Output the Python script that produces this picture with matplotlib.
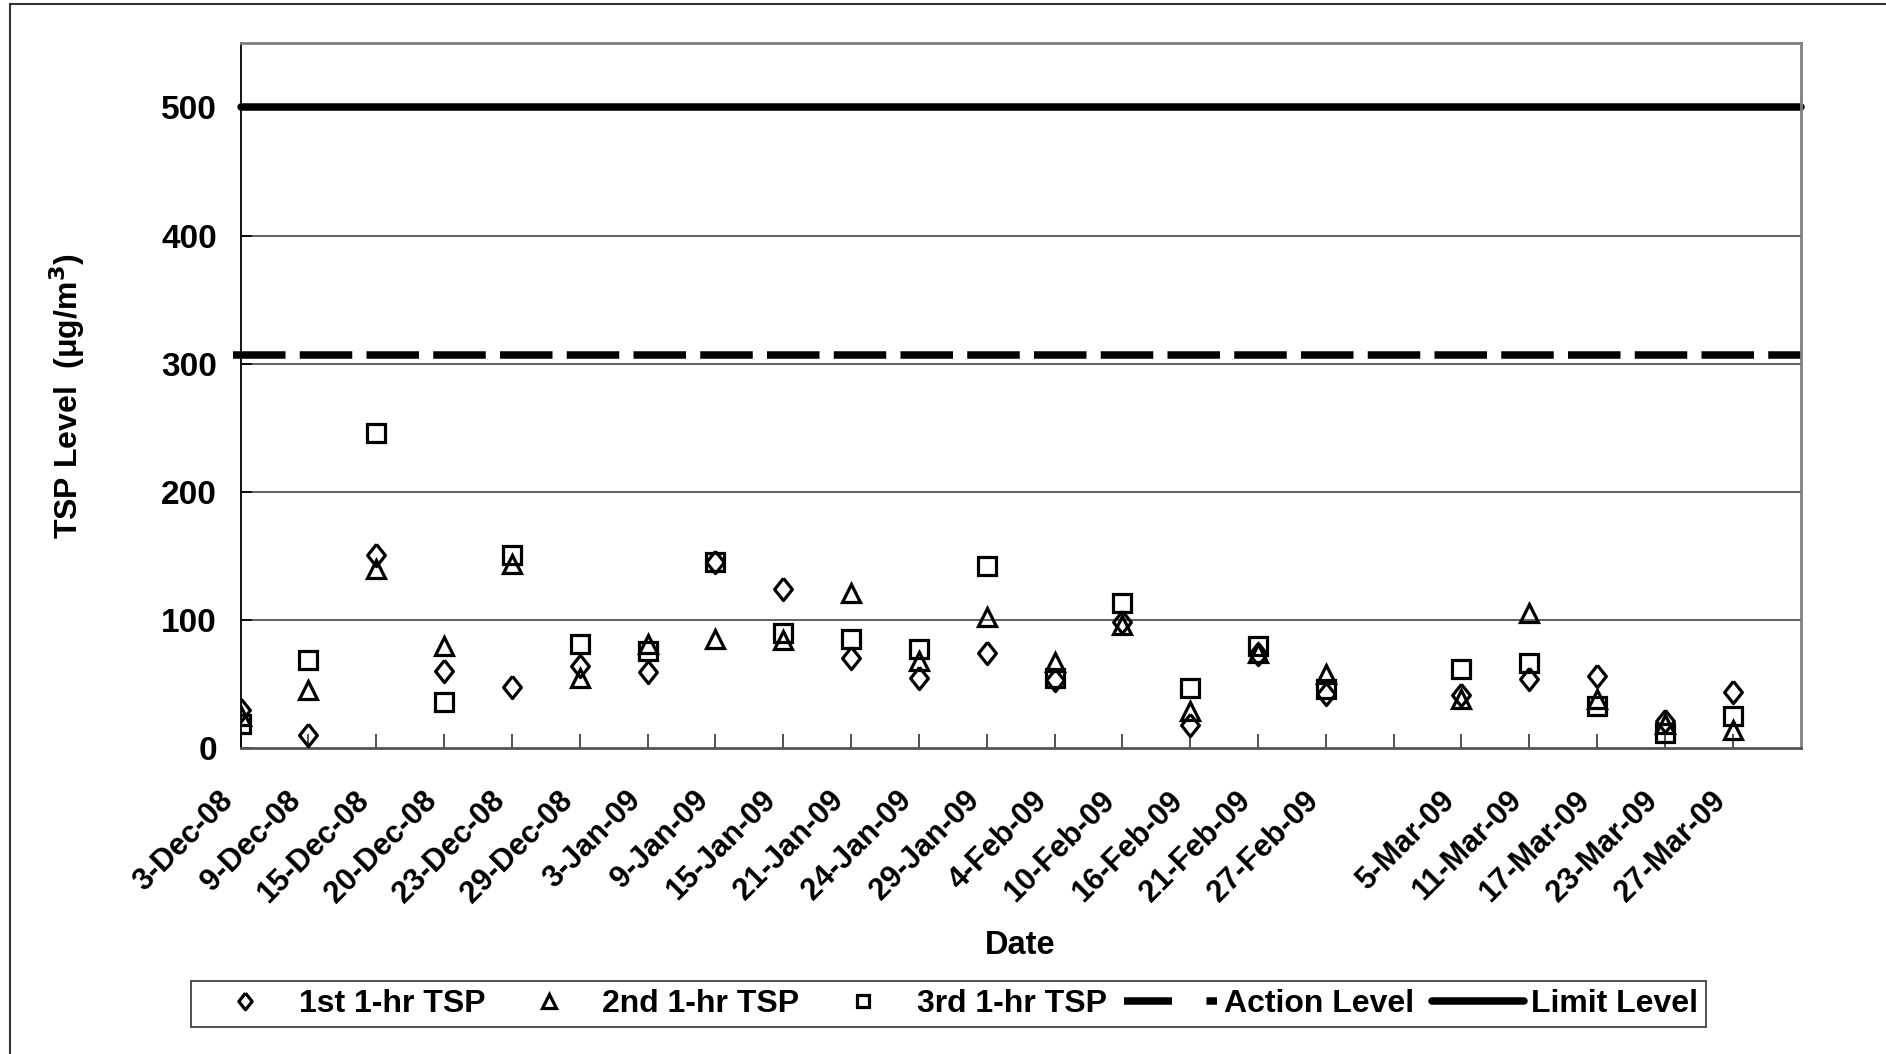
import matplotlib.pyplot as plt
import matplotlib.transforms as mtransforms
import numpy as np
from matplotlib.lines import Line2D
from matplotlib.patches import Rectangle

plt.rcParams['font.family'] = ['Liberation Sans', 'DejaVu Sans']
plt.rcParams['font.weight'] = 'bold'

# sampling dates (one empty slot between 27-Feb and 5-Mar)
dates = ['3-Dec-08', '9-Dec-08', '15-Dec-08', '20-Dec-08', '23-Dec-08', '29-Dec-08',
         '3-Jan-09', '9-Jan-09', '15-Jan-09', '21-Jan-09', '24-Jan-09', '29-Jan-09',
         '4-Feb-09', '10-Feb-09', '16-Feb-09', '21-Feb-09', '27-Feb-09', '',
         '5-Mar-09', '11-Mar-09', '17-Mar-09', '23-Mar-09', '27-Mar-09']

tsp_1st = [30, 10, 151, 60, 48, 64, 59, 145, 124, 70, 55, 74,
           53, 98, 18, 73, 42, np.nan, 41, 54, 56, 21, 44]
tsp_2nd = [25, 45, 140, 80, 144, 55, 81, 85, 84, 121, 68, 102,
           67, 96, 29, 74, 58, np.nan, 38, 105, 38, 19, 14]
tsp_3rd = [19, 69, 246, 36, 151, 81, 76, 145, 90, 85, 77, 142,
           55, 113, 47, 80, 46, np.nan, 62, 66, 33, 12, 25]

action_level = 307
limit_level = 500

x = np.arange(len(dates))

fig = plt.figure(figsize=(18.86, 10.54), dpi=100)
ax = fig.add_axes([0.1276, 0.2903, 0.8271, 0.6686])

# horizontal grid lines
for yv in [100, 200, 300, 400]:
    ax.axhline(yv, color='#444444', lw=1.2, zorder=1)

# a slightly tall diamond like the original chart
diamond = [(0, 1), (0.8, 0), (0, -1), (-0.8, 0), (0, 1)]

mk = dict(linestyle='none', markerfacecolor='none', markeredgecolor='black',
          markeredgewidth=2.3, zorder=3)
ax.plot(x, tsp_1st, marker=diamond, markersize=16, **mk)
ax.plot(x, tsp_2nd, marker='^', markersize=13.5, **mk)
ax.plot(x, tsp_3rd, marker='s', markersize=12.5, **mk)

# action and limit levels across the whole axis
ax.plot([-0.12, len(dates)], [action_level, action_level], color='black', lw=5.4,
        dashes=(7, 1.9), solid_capstyle='butt', zorder=2, clip_on=False)
ax.plot([0, len(dates)], [limit_level, limit_level], color='black', lw=5.4,
        solid_capstyle='round', zorder=2, clip_on=False)

ax.set_xlim(0, len(dates))
ax.set_ylim(0, 550)
ax.set_yticks([0, 100, 200, 300, 400, 500])
ax.set_xticks(x)
ax.set_xticklabels(dates, rotation=45, ha='right', rotation_mode='anchor', fontsize=22)
ax.tick_params(axis='x', direction='in', length=10, width=1.2, color='#333333', pad=30)
ax.tick_params(axis='y', direction='in', length=8, width=1.2, labelsize=24, pad=17)

shift = mtransforms.ScaledTranslation(-16 / 72, 3 / 72, fig.dpi_scale_trans)
for lab in ax.get_xticklabels():
    lab.set_transform(lab.get_transform() + shift)

ax.spines['left'].set_color('black')
ax.spines['left'].set_linewidth(1.3)
for s in ['bottom', 'right', 'top']:
    ax.spines[s].set_color('#808080')
    ax.spines[s].set_linewidth(2)
ax.spines['bottom'].set_color('#555555')

ax.set_ylabel('TSP Level  (μg/m$^\\mathbf{3}$)', fontsize=23, fontweight='bold')
ax.yaxis.set_label_coords(-0.0987, 0.5)
ax.set_xlabel('Date', fontsize=23.5, fontweight='bold')
ax.xaxis.set_label_coords(0.5, -0.258)

handles = [
    Line2D([], [], marker=diamond, markersize=12, **mk),
    Line2D([], [], marker='^', markersize=10, **mk),
    Line2D([], [], marker='s', markersize=9, **mk),
    Line2D([], [], color='black', lw=5.4, dashes=(6.4, 4.6)),
    Line2D([], [], color='black', lw=5.4, solid_capstyle='round'),
]
labels = ['1st 1-hr TSP', '2nd 1-hr TSP', '3rd 1-hr TSP', 'Action Level', 'Limit Level']
leg = fig.legend(handles, labels, loc='center', bbox_to_anchor=(0.503, 0.0474), ncol=5,
                 fontsize=23, frameon=True, fancybox=False, edgecolor='black',
                 handlelength=2.9, handletextpad=0.22, columnspacing=0.55, borderpad=0.25,
                 borderaxespad=0)
leg.get_frame().set_linewidth(1.2)
for t in leg.get_texts():
    t.set_fontweight('bold')

# outer border of the chart area
fig.patches.append(Rectangle((0.0055, -0.05), 1.1, 1.046, transform=fig.transFigure,
                             fill=False, edgecolor='#333333', lw=1.5))

fig.savefig('out.png', dpi=100)
